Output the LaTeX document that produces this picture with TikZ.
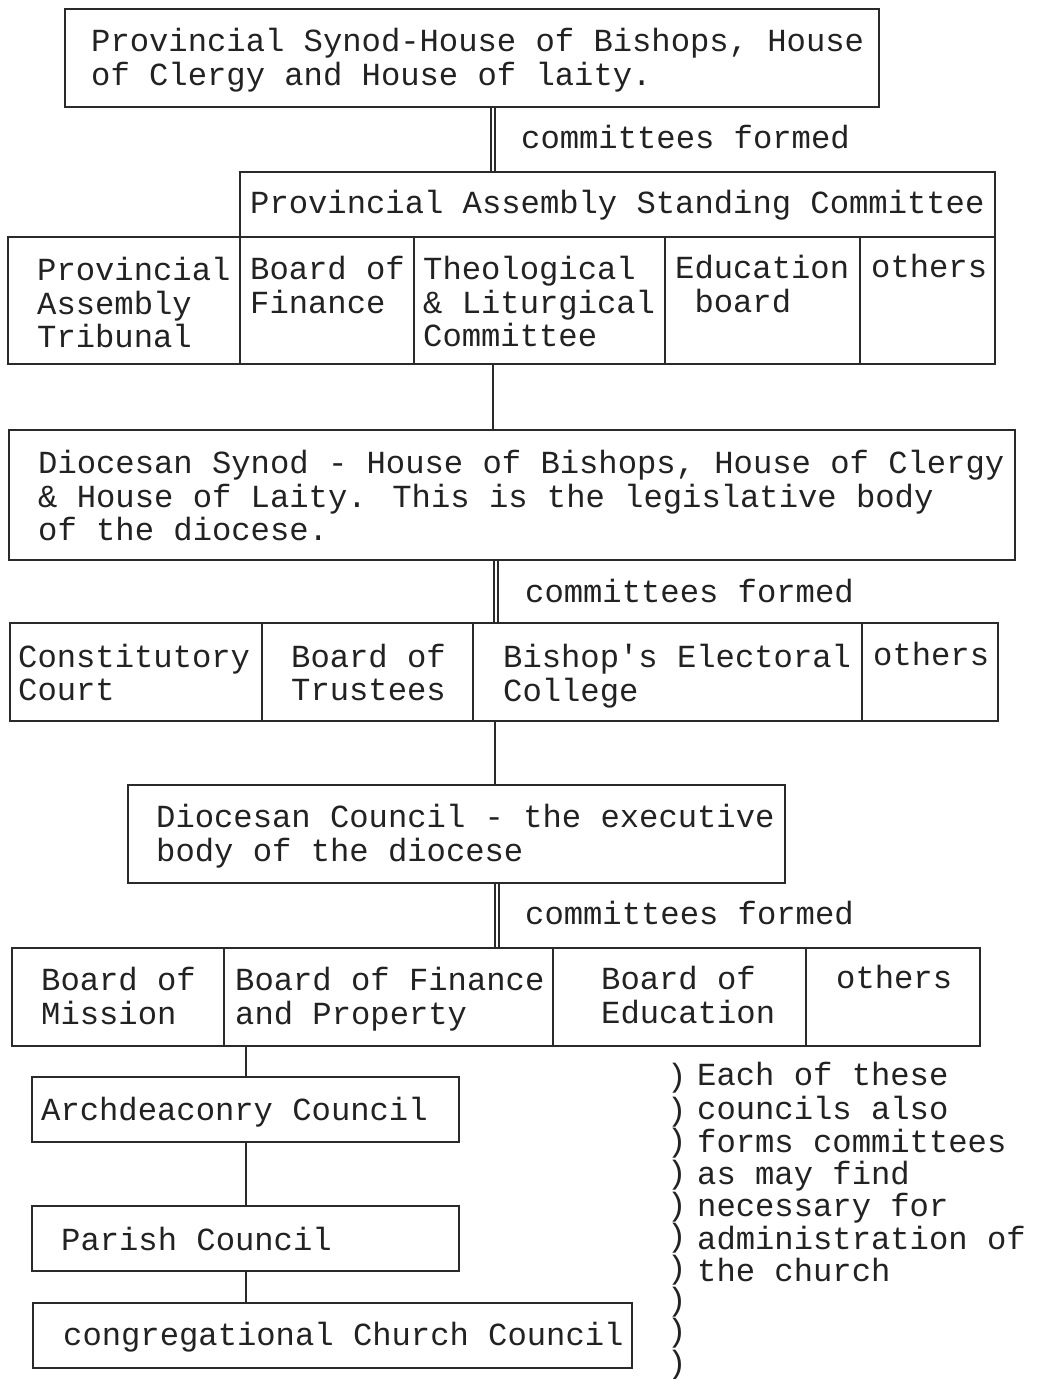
\documentclass[tikz,border=0pt]{standalone}
\usepackage{fontspec}
\usetikzlibrary{fit}
\newfontfamily\monofam{Liberation Mono}
\newcommand\tfont{\monofam\fontsize{32.2}{32.3}\selectfont}
\definecolor{ink}{HTML}{222222}
\definecolor{linec}{HTML}{2A2A2A}
\tikzset{
  box/.style={draw=linec, line width=1.8pt, inner sep=0pt, rectangle},
  txt/.style={anchor=north west, inner sep=0pt, align=left, font=\tfont, text=ink, yshift=22.61pt},
  single/.style={draw=linec, line width=1.4pt},
  dbl/.style={draw=linec, line width=1.2pt, double=white, double distance=2.8pt},
}
\begin{document}
\begin{tikzpicture}[x=1pt,y=1pt]
\useasboundingbox[fill=white] (0,0) rectangle (1040,-1379);
% boxes
\node[box, fit={(65,-9) (879,-107)}] (top) {};
\node[box, fit={(240,-172) (995,-237)}] (stand) {};
\node[box, fit={(8,-237) (240,-364)}] (trib) {};
\node[box, fit={(240,-237) (414,-364)}] (bof) {};
\node[box, fit={(414,-237) (665,-364)}] (theo) {};
\node[box, fit={(665,-237) (860,-364)}] (edu) {};
\node[box, fit={(860,-237) (995,-364)}] (oth1) {};
\node[box, fit={(9,-430) (1015,-560)}] (dsyn) {};
\node[box, fit={(10,-623) (262,-721)}] (con) {};
\node[box, fit={(262,-623) (473,-721)}] (bot) {};
\node[box, fit={(473,-623) (862,-721)}] (bec) {};
\node[box, fit={(862,-623) (998,-721)}] (oth2) {};
\node[box, fit={(128,-785) (785,-883)}] (dcou) {};
\node[box, fit={(12,-948) (224,-1046)}] (bom) {};
\node[box, fit={(224,-948) (553,-1046)}] (bfp) {};
\node[box, fit={(553,-948) (806,-1046)}] (boe) {};
\node[box, fit={(806,-948) (980,-1046)}] (oth3) {};
\node[box, fit={(32,-1077) (459,-1142)}] (arch) {};
\node[box, fit={(32,-1206) (459,-1271)}] (par) {};
\node[box, fit={(33,-1303) (632,-1368)}] (cong) {};
% connector columns
\coordinate (k1) at (493,0);
\coordinate (k2) at (493,0);
\coordinate (k3) at (496,0);
\coordinate (k4) at (495,0);
\coordinate (k5) at (497,0);
\coordinate (k6) at (246,0);
% connectors
\draw[dbl] (top.south -| k1) -- (stand.north -| k1);
\draw[single] (theo.south -| k2) -- (dsyn.north -| k2);
\draw[dbl] (dsyn.south -| k3) -- (bec.north -| k3);
\draw[single] (bec.south -| k4) -- (dcou.north -| k4);
\draw[dbl] (dcou.south -| k5) -- (bfp.north -| k5);
\draw[single] (bfp.south -| k6) -- (arch.north -| k6);
\draw[single] (arch.south -| k6) -- (par.north -| k6);
\draw[single] (par.south -| k6) -- (cong.north -| k6);
% texts
\node[txt] (ttop) at (91,-51) {\strut Provincial Synod-House of Bishops, House\\of Clergy and House of laity.};
\node[txt] (cf1) at (521,-148) {\strut committees formed};
\node[txt] (tstand) at (250,-213) {\strut Provincial Assembly Standing Committee};
\node[txt] (ttrib) at (37,-280) {\strut Provincial\\Assembly\\Tribunal};
\node[txt] (tbof) at (250,-279) {\strut Board of\\Finance};
\node[txt] (ttheo) at (423,-279) {\strut Theological\\\& Liturgical\\Committee};
\node[txt] (tedu) at (675,-278) {\strut Education\\\phantom{b}board};
\node[txt] (toth1) at (871,-277) {\strut others};
\node[txt] (tdsyn) at (38,-473) {\strut Diocesan Synod - House of Bishops, House of Clergy\\\& House of Laity. This is the legislative body\\of the diocese.};
\node[txt] (cf2) at (525,-602) {\strut committees formed};
\node[txt] (tcon) at (18,-667) {\strut Constitutory\\Court};
\node[txt] (tbot) at (291,-667) {\strut Board of\\Trustees};
\node[txt] (tbec) at (503,-667) {\strut Bishop's Electoral\\College};
\node[txt] (toth2) at (873,-665) {\strut others};
\node[txt] (tdcou) at (156,-827) {\strut Diocesan Council - the executive\\body of the diocese};
\node[txt] (cf3) at (525,-924) {\strut committees formed};
\node[txt] (tbom) at (41,-990) {\strut Board of\\Mission};
\node[txt] (tbfp) at (235,-990) {\strut Board of Finance\\and Property};
\node[txt] (tboe) at (601,-989) {\strut Board of\\Education};
\node[txt] (toth3) at (836,-988) {\strut others};
\node[txt] (tarch) at (41,-1120) {\strut Archdeaconry Council};
\node[txt] (tpar) at (61,-1250) {\strut Parish Council};
\node[txt] (tcong) at (63,-1345) {\strut congregational Church Council};
\node[txt, font=\monofam\fontsize{32.2}{31.7}\selectfont, yshift=-0.3pt] (parens) at (667,-1085) {\strut )\\)\\)\\)\\)\\)\\)\\)\\)\\)};
\node[txt] (note) at (697,-1085) {\strut Each of these\\councils also\\forms committees\\as may find\\necessary for\\administration of\\the church};
\end{tikzpicture}
\end{document}
